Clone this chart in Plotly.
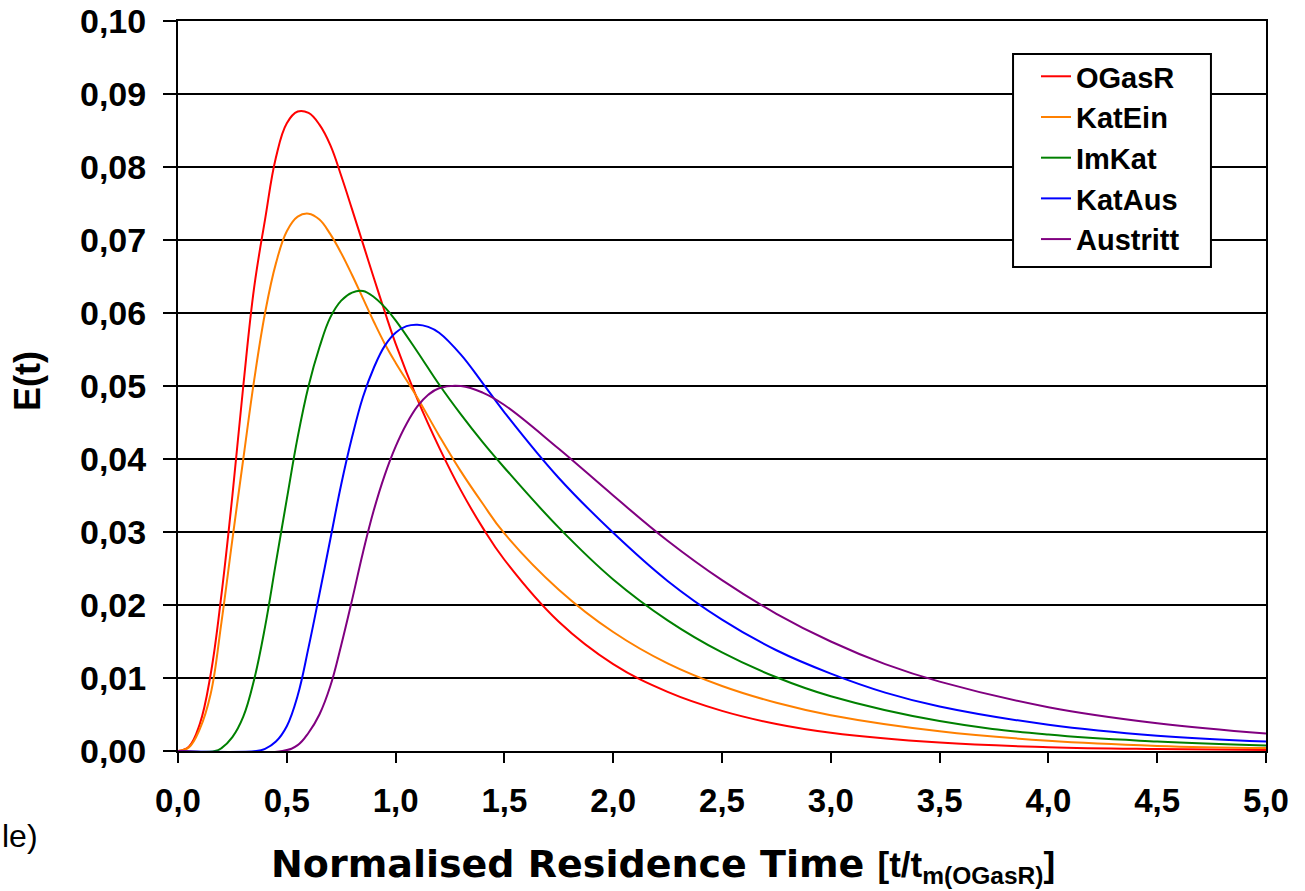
import plotly.graph_objects as go

# ---------------- data ----------------
series_names = ["OGasR", "KatEin", "ImKat", "KatAus", "Austritt"]
series_colors = ["#FF0000", "#FF8000", "#008000", "#0000FF", "#800080"]

x_ogasr = [0, 0.05, 0.1, 0.15, 0.2, 0.25, 0.3, 0.35, 0.4, 0.45, 0.5, 0.55, 0.6, 0.65,
           0.7, 0.75, 0.8, 0.85, 0.9, 0.95, 1.0, 1.1, 1.2, 1.3, 1.4, 1.5, 1.75,
           2.0, 2.25, 2.5, 2.75, 3.0, 3.5, 4.0, 4.5, 5.0]
e_ogasr = [0, 0.0006, 0.0037, 0.0105, 0.0215, 0.035, 0.050, 0.0635, 0.0728, 0.0813,
           0.0860, 0.0876, 0.0874, 0.0858, 0.0830, 0.0788, 0.0742, 0.0695, 0.0648,
           0.0602, 0.0558, 0.0482, 0.0416, 0.0357, 0.0306, 0.0262, 0.0177,
           0.0119, 0.0081, 0.0055, 0.0037, 0.0025, 0.00115, 0.00053, 0.00027, 0.00015]

x_katein = [0, 0.05, 0.1, 0.15, 0.2, 0.25, 0.3, 0.35, 0.4, 0.45, 0.5, 0.55, 0.6, 0.65,
            0.7, 0.75, 0.8, 0.85, 0.9, 0.95, 1.0, 1.1, 1.2, 1.3, 1.4, 1.5, 1.75,
            2.0, 2.25, 2.5, 2.75, 3.0, 3.5, 4.0, 4.5, 5.0]
e_katein = [0, 0.0005, 0.003, 0.0078, 0.0177, 0.029, 0.040, 0.0508, 0.060, 0.0668,
            0.0712, 0.0732, 0.0736, 0.0728, 0.0708, 0.0682, 0.0652, 0.0620, 0.0588,
            0.0558, 0.0532, 0.0484, 0.0432, 0.0383, 0.0339, 0.0298, 0.0221,
            0.0163, 0.0120, 0.0089, 0.0066, 0.0049, 0.0027, 0.0014, 0.0007, 0.0004]

x_imkat = [0, 0.17, 0.2, 0.25, 0.3, 0.35, 0.4, 0.45, 0.5, 0.55, 0.6, 0.65, 0.7, 0.75,
           0.8, 0.85, 0.9, 0.95, 1.0, 1.1, 1.2, 1.3, 1.4, 1.5, 1.75, 2.0, 2.25,
           2.5, 2.75, 3.0, 3.5, 4.0, 4.5, 5.0]
e_imkat = [0, 0, 0.0004, 0.0019, 0.0047, 0.0098, 0.0170, 0.0258, 0.0345, 0.0430,
           0.0500, 0.0553, 0.0594, 0.0617, 0.0628, 0.0630, 0.0622, 0.0608, 0.0590,
           0.0547, 0.0502, 0.0461, 0.0423, 0.0388, 0.0306, 0.0235, 0.0179,
           0.0135, 0.0101, 0.0075, 0.0041, 0.00225, 0.0013, 0.00075]

x_kataus = [0, 0.36, 0.4, 0.45, 0.5, 0.55, 0.6, 0.65, 0.7, 0.75, 0.8, 0.85, 0.9, 0.95,
            1.0, 1.05, 1.1, 1.15, 1.2, 1.3, 1.4, 1.5, 1.75, 2.0, 2.25, 2.5, 2.75,
            3.0, 3.25, 3.5, 4.0, 4.5, 5.0]
e_kataus = [0, 0, 0.0003, 0.0013, 0.0034, 0.0076, 0.0142, 0.0215, 0.029, 0.0365,
            0.043, 0.0485, 0.0525, 0.0555, 0.0573, 0.0582, 0.0584, 0.0581, 0.0573,
            0.0543, 0.0504, 0.0464, 0.0374, 0.0299, 0.0233, 0.0180, 0.0138,
            0.0106, 0.0080, 0.0061, 0.0036, 0.0021, 0.0013]

x_austritt = [0, 0.48, 0.55, 0.6, 0.65, 0.7, 0.75, 0.8, 0.85, 0.9, 0.95, 1.0, 1.05,
              1.1, 1.15, 1.2, 1.3, 1.4, 1.5, 1.75, 2.0, 2.25, 2.5, 2.75, 3.0,
              3.25, 3.5, 4.0, 4.5, 5.0]
e_austritt = [0, 0, 0.0008, 0.0025, 0.0050, 0.0089, 0.0145, 0.0207, 0.0272, 0.0330,
              0.0378, 0.0417, 0.0448, 0.0472, 0.0488, 0.0497, 0.0500, 0.0491, 0.0474,
              0.0414, 0.0350, 0.0288, 0.0234, 0.0188, 0.0150, 0.0119, 0.0095,
              0.0060, 0.0038, 0.0024]

x_tick_vals = [0, 0.5, 1.0, 1.5, 2.0, 2.5, 3.0, 3.5, 4.0, 4.5, 5.0]
x_tick_text = ["0,0", "0,5", "1,0", "1,5", "2,0", "2,5", "3,0", "3,5", "4,0", "4,5", "5,0"]
y_tick_vals = [0, 0.01, 0.02, 0.03, 0.04, 0.05, 0.06, 0.07, 0.08, 0.09, 0.10]
y_tick_text = ["0,00", "0,01", "0,02", "0,03", "0,04", "0,05", "0,06", "0,07", "0,08", "0,09", "0,10"]

xs = [x_ogasr, x_katein, x_imkat, x_kataus, x_austritt]
es = [e_ogasr, e_katein, e_imkat, e_kataus, e_austritt]

FONT = "Arial, Liberation Sans, sans-serif"
WIDE = "DejaVu Sans, Verdana, sans-serif"

fig = go.Figure()
for name, color, x, e in zip(series_names, series_colors, xs, es):
    fig.add_trace(go.Scatter(
        x=x, y=e, name=name, mode="lines",
        line=dict(color=color, width=2, shape="spline", smoothing=1.15),
    ))

fig.update_layout(
    width=1305, height=891,
    margin=dict(l=178, r=39, t=21, b=140, autoexpand=False),
    paper_bgcolor="white", plot_bgcolor="white",
    font=dict(family=FONT, color="black"),
    showlegend=True,
    legend=dict(
        x=0.7886, y=0.959, xanchor="left", yanchor="top",
        bgcolor="rgba(0,0,0,0)", borderwidth=0,
        font=dict(family=FONT, size=29, weight="bold", color="black"),
        tracegroupgap=0,
    ),
    xaxis=dict(
        range=[0, 5], tickvals=x_tick_vals, ticktext=x_tick_text,
        showgrid=False, zeroline=False, automargin=False,
        showline=True, linecolor="black", linewidth=2, mirror=True,
        ticks="outside", ticklen=10, tickwidth=2, tickcolor="black",
        tickfont=dict(family=FONT, size=33, weight="bold", color="black"),
        ticklabelstandoff=9,
    ),
    yaxis=dict(
        range=[0, 0.1], tickvals=y_tick_vals, ticktext=y_tick_text,
        showgrid=True, gridcolor="black", gridwidth=1.6, zeroline=False,
        automargin=False,
        showline=True, linecolor="black", linewidth=2, mirror=True,
        ticks="outside", ticklen=13, tickwidth=2, tickcolor="black",
        tickfont=dict(family=FONT, size=34, weight="bold", color="black"),
        ticklabelstandoff=10,
    ),
)

# grey grid line at 0,09 as in the reference
fig.add_shape(type="line", xref="paper", yref="y", x0=0, x1=1, y0=0.09, y1=0.09,
              line=dict(color="#8a8a8a", width=2), layer="between")

# legend frame
fig.add_shape(type="rect", xref="paper", yref="paper",
              x0=0.7675, x1=0.9494, y0=0.663, y1=0.9548,
              line=dict(color="black", width=2), fillcolor="white", layer="above")

# axis titles
fig.add_annotation(
    xref="paper", yref="paper", x=-0.1388, y=0.5068, textangle=-90,
    text="E(t)", showarrow=False, xanchor="center", yanchor="middle",
    font=dict(family=FONT, size=36, weight="bold", color="black"),
)
fig.add_annotation(
    xref="paper", yref="paper", x=0.4462, y=-0.1575,
    text=("Normalised Residence Time "
          "<span style='font-family:Arial, Liberation Sans, sans-serif;font-size:35px'>"
          "[t/t<sub>m(OGasR)</sub>]</span>"),
    showarrow=False, xanchor="center", yanchor="middle",
    font=dict(family=WIDE, size=38, weight="bold", color="black"),
)
fig.add_annotation(
    xref="paper", yref="paper", x=-0.1636, y=-0.116,
    text="le)", showarrow=False, xanchor="left", yanchor="middle",
    font=dict(family=FONT, size=32, color="black"),
)

fig.write_html("out.html", config={"displayModeBar": False},
               post_script="document.body.style.margin='0px';")
